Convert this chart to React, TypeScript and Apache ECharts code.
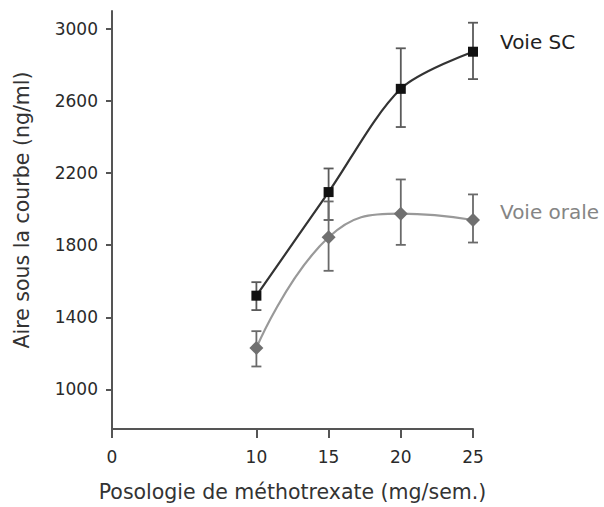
import React, { useEffect, useRef } from "react";
import * as echarts from "echarts";

const doses = [10, 15, 20, 25];
const scMean = [1520, 2095, 2668, 2874];
const scLow = [1440, 1940, 2456, 2722];
const scHigh = [1595, 2226, 2893, 3035];
const oralMean = [1230, 1844, 1975, 1940];
const oralLow = [1127, 1658, 1802, 1815];
const oralHigh = [1323, 2043, 2165, 2082];
const xTicks = [0, 10, 15, 20, 25];
const yTicks = [1000, 1400, 1800, 2200, 2600, 3000];
const seriesNames = ["Voie SC", "Voie orale"];
const xTitle = "Posologie de méthotrexate (mg/sem.)";
const yTitle = "Aire sous la courbe (ng/ml)";

const FONT = "DejaVu Sans";

function errorSeries(lo: number[], hi: number[], color: string) {
  return {
    type: "custom",
    z: 1,
    silent: true,
    data: doses.map((d, i) => [d, lo[i], hi[i]]),
    encode: { x: 0, y: [1, 2] },
    renderItem: (params: any, api: any) => {
      const x = api.value(0);
      const pLo = api.coord([x, api.value(1)]);
      const pHi = api.coord([x, api.value(2)]);
      const w = 5;
      const style = { stroke: color, lineWidth: 1.8 };
      return {
        type: "group",
        children: [
          { type: "line", shape: { x1: pLo[0], y1: pLo[1], x2: pHi[0], y2: pHi[1] }, style },
          { type: "line", shape: { x1: pLo[0] - w, y1: pLo[1], x2: pLo[0] + w, y2: pLo[1] }, style },
          { type: "line", shape: { x1: pHi[0] - w, y1: pHi[1], x2: pHi[0] + w, y2: pHi[1] }, style },
        ],
      };
    },
  };
}

export default function App() {
  const ref = useRef<HTMLDivElement>(null);
  useEffect(() => {
    if (!ref.current) return;
    const chart = echarts.init(ref.current, undefined, { renderer: "svg" });
    chart.setOption({
      animation: false,
      backgroundColor: "#ffffff",
      grid: { left: 112, right: 131, top: 11, bottom: 76 },
      xAxis: {
        type: "value",
        min: 0,
        max: 25,
        name: xTitle,
        nameLocation: "middle",
        nameGap: 52,
        nameTextStyle: { fontFamily: FONT, fontSize: 20.5, color: "#333" },
        axisLine: { show: true, lineStyle: { color: "#555", width: 2 } },
        axisTick: { show: true, length: 9, customValues: xTicks, lineStyle: { color: "#555", width: 2 } },
        axisLabel: {
          customValues: xTicks,
          margin: 19,
          fontFamily: FONT,
          fontSize: 17,
          color: "#2a2a2a",
          formatter: (v: number) => String(v),
        },
        splitLine: { show: false },
      },
      yAxis: {
        type: "value",
        min: 780,
        max: 3100,
        axisLine: { show: true, lineStyle: { color: "#555", width: 2 } },
        axisTick: { show: true, length: 6, customValues: yTicks, lineStyle: { color: "#555", width: 2 } },
        axisLabel: {
          customValues: yTicks,
          margin: 14,
          fontFamily: FONT,
          fontSize: 17,
          color: "#2a2a2a",
          formatter: (v: number) => String(v),
        },
        splitLine: { show: false },
      },
      graphic: [
        {
          type: "text",
          x: 22,
          y: 210,
          rotation: Math.PI / 2,
          style: {
            text: yTitle,
            fontFamily: FONT,
            fontSize: 20.5,
            fill: "#333",
            align: "center",
            verticalAlign: "middle",
          },
        },
        {
          type: "text",
          x: 500,
          y: 42,
          style: { text: seriesNames[0], fontFamily: FONT, fontSize: 20, fill: "#222", align: "left", verticalAlign: "middle" },
        },
        {
          type: "text",
          x: 500,
          y: 212,
          style: { text: seriesNames[1], fontFamily: FONT, fontSize: 20, fill: "#858585", align: "left", verticalAlign: "middle" },
        },
      ],
      series: [
        errorSeries(scLow, scHigh, "#5a5a5a"),
        errorSeries(oralLow, oralHigh, "#6a6a6a"),
        {
          name: seriesNames[1],
          type: "line",
          z: 2,
          smooth: 0.45,
          data: doses.map((d, i) => [d, oralMean[i]]),
          symbol: "diamond",
          symbolSize: [14, 14],
          itemStyle: { color: "#707070", borderWidth: 0 },
          lineStyle: { color: "#999", width: 2.2 },
        },
        {
          name: seriesNames[0],
          type: "line",
          z: 3,
          smooth: 0.3,
          data: doses.map((d, i) => [d, scMean[i]]),
          symbol: "rect",
          symbolSize: [10, 10],
          itemStyle: { color: "#111", borderWidth: 0 },
          lineStyle: { color: "#333", width: 2.2 },
        },
      ],
    });
    return () => chart.dispose();
  }, []);
  return <div ref={ref} style={{ position: "fixed", left: 0, top: 0, width: 604, height: 507 }} />;
}
